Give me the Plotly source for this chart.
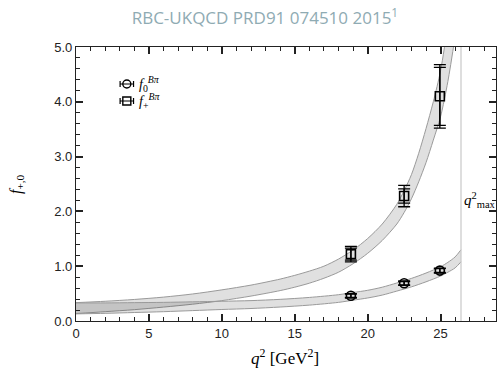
import plotly.graph_objects as go

# ---- data ----
# f+ band
fp_q2 = [0, 2, 4, 6, 8, 10, 12, 14, 15, 16, 17, 18, 19, 20, 21, 22, 22.5, 23, 23.5, 24, 24.5, 25, 25.5, 26]
fp_upper = [0.335, 0.36, 0.393, 0.436, 0.493, 0.568, 0.655, 0.765, 0.833, 0.91, 1.0, 1.13, 1.295, 1.505, 1.77, 2.13, 2.38, 2.67, 3.06, 3.51, 4.0, 4.57, 5.43, 6.6]
fp_lower = [0.135, 0.17, 0.207, 0.254, 0.307, 0.372, 0.455, 0.555, 0.617, 0.69, 0.78, 0.89, 1.045, 1.235, 1.47, 1.77, 1.98, 2.23, 2.54, 2.89, 3.3, 3.73, 4.37, 5.2]
# f0 band
f0_q2 = [0, 2, 4, 6, 8, 10, 12, 14, 16, 18, 19, 20, 21, 22, 23, 24, 25, 25.5, 26, 26.4]
f0_upper = [0.33, 0.33, 0.335, 0.34, 0.35, 0.36, 0.372, 0.395, 0.43, 0.48, 0.52, 0.56, 0.617, 0.694, 0.777, 0.875, 0.99, 1.07, 1.17, 1.30]
f0_lower = [0.13, 0.14, 0.155, 0.17, 0.19, 0.21, 0.228, 0.255, 0.29, 0.34, 0.38, 0.42, 0.473, 0.546, 0.623, 0.715, 0.82, 0.89, 0.97, 1.08]

# lattice data points
data_q2 = [18.85, 22.5, 24.95]
f0_vals = [0.46, 0.69, 0.92]
f0_err_stat = [0.03, 0.03, 0.035]
f0_err_tot = [0.04, 0.04, 0.045]
fp_vals = [1.22, 2.28, 4.10]
fp_err_stat = [0.11, 0.13, 0.53]
fp_err_tot = [0.14, 0.195, 0.58]

q2max = 26.4
x_ticks = [0, 5, 10, 15, 20, 25]
y_ticks = [0, 1, 2, 3, 4, 5]
legend_labels = ["<i>f</i><sub>0</sub><sup><i>Bπ</i></sup>", "<i>f</i><sub>+</sub><sup><i>Bπ</i></sup>"]
legend_symbols = ["circle-open", "square-open"]

SERIF = "Liberation Serif"
SANS = "Liberation Sans"
band_fill = "rgba(0,0,0,0.12)"
band_line = "#9a9a9a"

W, H = 498, 371
ML, MR, MT, MB = 76, 2, 47, 22
AXIS_BOTTOM_PX = 321
area_h = H - MT - MB
y_dom0 = (H - MB - AXIS_BOTTOM_PX) / area_h

fig = go.Figure()

def add_band(q, lo, hi):
    fig.add_trace(go.Scatter(x=q, y=lo, mode="lines", line=dict(color=band_line, width=1, shape="spline", smoothing=0.8),
                             showlegend=False, hoverinfo="skip"))
    fig.add_trace(go.Scatter(x=q, y=hi, mode="lines", line=dict(color=band_line, width=1, shape="spline", smoothing=0.8),
                             fill="tonexty", fillcolor=band_fill, showlegend=False, hoverinfo="skip"))

add_band(fp_q2, fp_lower, fp_upper)
add_band(f0_q2, f0_lower, f0_upper)

# q2max line
fig.add_trace(go.Scatter(x=[q2max, q2max], y=[0, 5], mode="lines", line=dict(color="#c8c8c8", width=1.2),
                         showlegend=False, hoverinfo="skip"))

def add_points(y, e_in, e_out, symbol):
    fig.add_trace(go.Scatter(x=data_q2, y=y, mode="markers",
                             marker=dict(symbol=symbol, size=1, color="rgba(0,0,0,0)"),
                             error_y=dict(type="data", array=e_out, color="black", thickness=1.3, width=6),
                             showlegend=False, hoverinfo="skip"))
    fig.add_trace(go.Scatter(x=data_q2, y=y, mode="markers", showlegend=False,
                             marker=dict(symbol=symbol, size=9, color="black",
                                         line=dict(color="black", width=1.6)),
                             error_y=dict(type="data", array=e_in, color="black", thickness=1.3, width=6)))

add_points(f0_vals, f0_err_stat, f0_err_tot, legend_symbols[0])
add_points(fp_vals, fp_err_stat, fp_err_tot, legend_symbols[1])

# hand-drawn legend (symbols on a hidden 0..1 overlay axis)
leg_y = [0.865, 0.803]
for sym, yy, lab in zip(legend_symbols, leg_y, legend_labels):
    fig.add_trace(go.Scatter(x=[0.121], y=[yy], xaxis="x2", yaxis="y2", mode="markers", showlegend=False,
                             marker=dict(symbol=sym, size=8, color="black", line=dict(width=1.4, color="black")),
                             error_x=dict(type="constant", value=0.016, color="black", thickness=1.2, width=3),
                             hoverinfo="skip"))
    fig.add_annotation(x=0.145, y=yy, xref="x2", yref="y2", xanchor="left", yanchor="middle",
                       text=lab, showarrow=False, font=dict(family=SERIF, size=14, color="black"))

fig.add_annotation(x=q2max + 0.05, y=2.2, xref="x", yref="y", xanchor="left", yanchor="middle",
                   text="<i>q</i><sup>2</sup><sub>max</sub>", showarrow=False,
                   font=dict(family=SERIF, size=15, color="black"))

# axis titles
fig.add_annotation(x=(285 - ML) / (W - ML - MR), y=(H - MB - 357) / area_h, xref="paper", yref="paper",
                   xanchor="center", yanchor="middle", showarrow=False,
                   text="<i>q</i><sup>2</sup> [GeV<sup>2</sup>]", font=dict(family=SERIF, size=17, color="black"))
fig.add_annotation(x=(16 - ML) / (W - ML - MR), y=0.5, xref="paper", yref="y2",
                   xanchor="center", yanchor="middle", showarrow=False, textangle=-90,
                   text="<i>f</i><sub>+,0</sub>", font=dict(family=SERIF, size=16, color="black"))

axis_common = dict(showline=True, linecolor="#222", linewidth=1.3, mirror="ticks",
                   ticks="inside", ticklen=7, tickwidth=1.5, tickcolor="#222",
                   showgrid=False, zeroline=False, automargin=False,
                   tickfont=dict(family=SANS, size=13, color="#222"))

fig.update_layout(
    width=W, height=H, autosize=False,
    margin=dict(l=ML, r=MR, t=MT, b=MB),
    paper_bgcolor="white", plot_bgcolor="white", showlegend=False,
    title=dict(text="RBC-UKQCD PRD91 074510 2015<sup>1</sup>", x=0.532, xanchor="center",
               xref="container", y=1 - 18 / 371, yref="container", yanchor="middle",
               font=dict(family="Open Sans", size=17, color="#8fabb3")),
    xaxis=dict(range=[0, 28.8], tickvals=x_ticks, ticktext=[str(v) for v in x_ticks],
               minor=dict(ticks="inside", dtick=1, ticklen=4, tickcolor="#222", tickwidth=1),
               **axis_common),
    yaxis=dict(range=[0, 5], tickvals=y_ticks, ticktext=[f"{v:.1f}" for v in y_ticks], domain=[y_dom0, 1],
               minor=dict(ticks="inside", dtick=0.2, ticklen=4, tickcolor="#222", tickwidth=1),
               **axis_common),
    xaxis2=dict(overlaying="x", range=[0, 1], visible=False, fixedrange=True),
    yaxis2=dict(overlaying="y", range=[0, 1], visible=False, fixedrange=True),
)

fig.write_html("out.html")
